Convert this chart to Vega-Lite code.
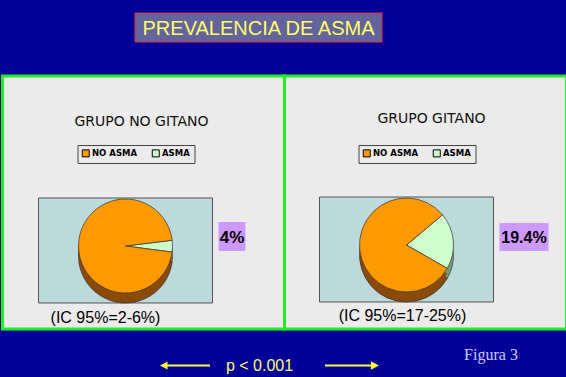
{
  "$schema": "https://vega.github.io/schema/vega-lite/v6.json",
  "background": "#000099",
  "padding": {"left": 0.5, "top": 0, "right": 0, "bottom": 0},
  "config": {"view": {"stroke": null}, "text": {"font": "Liberation Sans"}},
  "datasets": {
    "pies": [
      {"group": "GRUPO NO GITANO", "status": "ASMA", "pct": 4},
      {"group": "GRUPO NO GITANO", "status": "NO ASMA", "pct": 96},
      {"group": "GRUPO GITANO", "status": "ASMA", "pct": 19.4},
      {"group": "GRUPO GITANO", "status": "NO ASMA", "pct": 80.6}
    ],
    "labels": [
      {"group": "GRUPO NO GITANO", "title": "GRUPO NO  GITANO", "label": "4%", "ci": "(IC 95%=2-6%)"},
      {"group": "GRUPO GITANO", "title": "GRUPO GITANO", "label": "19.4%", "ci": "(IC 95%=17-25%)"}
    ],
    "page": [
      {"title": "PREVALENCIA DE ASMA", "p": "p < 0.001", "fig": "Figura 3"}
    ]
  },
  "spacing": 0,
  "vconcat": [
    {
      "width": 565,
      "height": 73.5,
      "data": {"name": "page"},
      "layer": [
        {
          "mark": {"type": "point", "shape": "M-1,-0.1174H1V0.1174H-1Z", "size": 61009, "filled": true, "fill": "#63639e", "stroke": "#e03030", "strokeWidth": 1, "opacity": 1, "xOffset": -26.5, "yOffset": -9.25},
          "encoding": {}
        },
        {
          "mark": {"type": "text", "fontSize": 20, "color": "#ffff66", "dx": -26.5, "dy": -8.25},
          "encoding": {"text": {"field": "title"}}
        }
      ]
    },
    {
      "spacing": 0,
      "bounds": "flush",
      "resolve": {"scale": {"color": "independent", "theta": "independent"}, "legend": {"color": "independent"}},
      "hconcat": [
        {
          "width": 282,
          "height": 253,
          "view": {"fill": "#ebebeb", "stroke": "#22ee22", "strokeWidth": 3},
          "layer": [
            {
              "data": {"name": "labels"},
              "transform": [{"filter": "datum.group === 'GRUPO NO GITANO'"}],
              "mark": {"type": "text", "fontSize": 14, "font": "DejaVu Sans", "color": "#111111", "dx": -2, "dy": -80.5},
              "encoding": {"text": {"field": "title"}}
            },
            {
              "data": {"name": "labels"},
              "transform": [{"filter": "datum.group === 'GRUPO NO GITANO'"}],
              "mark": {"type": "point", "shape": "M-1,-0.6034H1V0.6034H-1Z", "size": 30276, "filled": true, "fill": "#bcd9dc", "stroke": "#555555", "strokeWidth": 1, "opacity": 1, "xOffset": -18, "yOffset": 48},
              "encoding": {}
            },
            {
              "data": {"name": "pies"},
              "transform": [{"filter": "datum.group === 'GRUPO NO GITANO'"}],
              "mark": {"type": "arc", "radius": 47, "xOffset": -18, "yOffset": 53.5, "stroke": "#333333", "strokeWidth": 0.7},
              "encoding": {
                "theta": {"field": "pct", "type": "quantitative", "stack": true, "scale": {"range": [1.449, 7.732]}},
                "order": {"field": "status", "type": "ordinal"},
                "color": {"condition": {"test": "datum.status === 'ASMA'", "value": "#7c9a7c"}, "value": "#8a4a0a"}
              }
            },
            {
              "data": {"name": "pies"},
              "transform": [{"filter": "datum.group === 'GRUPO NO GITANO'"}],
              "mark": {"type": "arc", "radius": 47, "xOffset": -18, "yOffset": 48.5},
              "encoding": {
                "theta": {"field": "pct", "type": "quantitative", "stack": true, "scale": {"range": [1.449, 7.732]}},
                "order": {"field": "status", "type": "ordinal"},
                "color": {"condition": {"test": "datum.status === 'ASMA'", "value": "#7c9a7c"}, "value": "#8a4a0a"}
              }
            },
            {
              "data": {"name": "pies"},
              "transform": [{"filter": "datum.group === 'GRUPO NO GITANO'"}],
              "mark": {"type": "arc", "radius": 47, "xOffset": -18, "yOffset": 43.5, "stroke": "#333333", "strokeWidth": 0.7},
              "encoding": {
                "theta": {"field": "pct", "type": "quantitative", "stack": true, "scale": {"range": [1.449, 7.732]}},
                "order": {"field": "status", "type": "ordinal"},
                "color": {
                  "field": "status", "type": "nominal",
                  "scale": {"domain": ["NO ASMA", "ASMA"], "range": ["#ff9900", "#ccffcc"]},
                  "legend": {"orient": "none", "legendX": 75, "legendY": 69, "direction": "horizontal", "title": null, "symbolType": "square", "symbolSize": 49, "symbolStrokeColor": "#000000", "symbolStrokeWidth": 1, "labelFont": "DejaVu Sans", "labelFontSize": 8.5, "labelFontWeight": "bold", "labelColor": "#000000", "strokeColor": "#444444", "padding": 4, "columnPadding": 12, "labelOffset": 2}
                }
              }
            },
            {
              "data": {"name": "labels"},
              "transform": [{"filter": "datum.group === 'GRUPO NO GITANO'"}],
              "mark": {"type": "point", "shape": "M-1,-1.074H1V1.074H-1Z", "size": 729, "filled": true, "fill": "#cc99ff", "strokeWidth": 0, "opacity": 1, "xOffset": 88.5, "yOffset": 34},
              "encoding": {}
            },
            {
              "data": {"name": "labels"},
              "transform": [{"filter": "datum.group === 'GRUPO NO GITANO'"}],
              "mark": {"type": "text", "fontSize": 17, "fontWeight": "bold", "color": "#000000", "dx": 88.5, "dy": 35},
              "encoding": {"text": {"field": "label"}}
            },
            {
              "data": {"name": "labels"},
              "transform": [{"filter": "datum.group === 'GRUPO NO GITANO'"}],
              "mark": {"type": "text", "fontSize": 16, "color": "#000000", "dx": -38, "dy": 115.5},
              "encoding": {"text": {"field": "ci"}}
            }
          ]
        },
        {
          "width": 282,
          "height": 253,
          "view": {"fill": "#ebebeb", "stroke": "#22ee22", "strokeWidth": 3},
          "layer": [
            {
              "data": {"name": "labels"},
              "transform": [{"filter": "datum.group === 'GRUPO GITANO'"}],
              "mark": {"type": "text", "fontSize": 14, "font": "DejaVu Sans", "color": "#111111", "dx": 6, "dy": -83.5},
              "encoding": {"text": {"field": "title"}}
            },
            {
              "data": {"name": "labels"},
              "transform": [{"filter": "datum.group === 'GRUPO GITANO'"}],
              "mark": {"type": "point", "shape": "M-1,-0.6034H1V0.6034H-1Z", "size": 30276, "filled": true, "fill": "#bcd9dc", "stroke": "#555555", "strokeWidth": 1, "opacity": 1, "xOffset": -19, "yOffset": 47},
              "encoding": {}
            },
            {
              "data": {"name": "pies"},
              "transform": [{"filter": "datum.group === 'GRUPO GITANO'"}],
              "mark": {"type": "arc", "radius": 47, "xOffset": -19, "yOffset": 52.5, "stroke": "#333333", "strokeWidth": 0.7},
              "encoding": {
                "theta": {"field": "pct", "type": "quantitative", "stack": true, "scale": {"range": [0.8727, 7.1559]}},
                "order": {"field": "status", "type": "ordinal"},
                "color": {"condition": {"test": "datum.status === 'ASMA'", "value": "#7c9a7c"}, "value": "#8a4a0a"}
              }
            },
            {
              "data": {"name": "pies"},
              "transform": [{"filter": "datum.group === 'GRUPO GITANO'"}],
              "mark": {"type": "arc", "radius": 47, "xOffset": -19, "yOffset": 47.5},
              "encoding": {
                "theta": {"field": "pct", "type": "quantitative", "stack": true, "scale": {"range": [0.8727, 7.1559]}},
                "order": {"field": "status", "type": "ordinal"},
                "color": {"condition": {"test": "datum.status === 'ASMA'", "value": "#7c9a7c"}, "value": "#8a4a0a"}
              }
            },
            {
              "data": {"name": "pies"},
              "transform": [{"filter": "datum.group === 'GRUPO GITANO'"}],
              "mark": {"type": "arc", "radius": 47, "xOffset": -19, "yOffset": 42.5, "stroke": "#333333", "strokeWidth": 0.7},
              "encoding": {
                "theta": {"field": "pct", "type": "quantitative", "stack": true, "scale": {"range": [0.8727, 7.1559]}},
                "order": {"field": "status", "type": "ordinal"},
                "color": {
                  "field": "status", "type": "nominal",
                  "scale": {"domain": ["NO ASMA", "ASMA"], "range": ["#ff9900", "#ccffcc"]},
                  "legend": {"orient": "none", "legendX": 74, "legendY": 69, "direction": "horizontal", "title": null, "symbolType": "square", "symbolSize": 49, "symbolStrokeColor": "#000000", "symbolStrokeWidth": 1, "labelFont": "DejaVu Sans", "labelFontSize": 8.5, "labelFontWeight": "bold", "labelColor": "#000000", "strokeColor": "#444444", "padding": 4, "columnPadding": 12, "labelOffset": 2}
                }
              }
            },
            {
              "data": {"name": "labels"},
              "transform": [{"filter": "datum.group === 'GRUPO GITANO'"}],
              "mark": {"type": "point", "shape": "M-1,-0.5714H1V0.5714H-1Z", "size": 2401, "filled": true, "fill": "#cc99ff", "strokeWidth": 0, "opacity": 1, "xOffset": 98.5, "yOffset": 34.5},
              "encoding": {}
            },
            {
              "data": {"name": "labels"},
              "transform": [{"filter": "datum.group === 'GRUPO GITANO'"}],
              "mark": {"type": "text", "fontSize": 16, "fontWeight": "bold", "color": "#000000", "dx": 98.5, "dy": 35},
              "encoding": {"text": {"field": "label"}}
            },
            {
              "data": {"name": "labels"},
              "transform": [{"filter": "datum.group === 'GRUPO GITANO'"}],
              "mark": {"type": "text", "fontSize": 16, "color": "#000000", "dx": -23, "dy": 113.5},
              "encoding": {"text": {"field": "ci"}}
            }
          ]
        }
      ]
    },
    {
      "width": 565,
      "height": 47.5,
      "data": {"name": "page"},
      "layer": [
        {
          "mark": {"type": "text", "fontSize": 16, "color": "#ffff66", "dx": -25.5, "dy": 10.75},
          "encoding": {"text": {"field": "p"}}
        },
        {
          "mark": {"type": "point", "shape": "M-1,0L-0.7,-0.16L-0.7,-0.04L1,-0.04L1,0.04L-0.7,0.04L-0.7,0.16Z", "size": 2500, "filled": true, "fill": "#ffff33", "strokeWidth": 0, "opacity": 1, "xOffset": -100, "yOffset": 10.75},
          "encoding": {}
        },
        {
          "mark": {"type": "point", "shape": "M1,0L0.7,-0.16L0.7,-0.04L-1,-0.04L-1,0.04L0.7,0.04L0.7,0.16Z", "size": 2916, "filled": true, "fill": "#ffff33", "strokeWidth": 0, "opacity": 1, "xOffset": 67, "yOffset": 10.75},
          "encoding": {}
        },
        {
          "mark": {"type": "text", "font": "Liberation Serif", "fontSize": 16, "color": "#ccccff", "dx": 206, "dy": -0.25},
          "encoding": {"text": {"field": "fig"}}
        }
      ]
    }
  ]
}
